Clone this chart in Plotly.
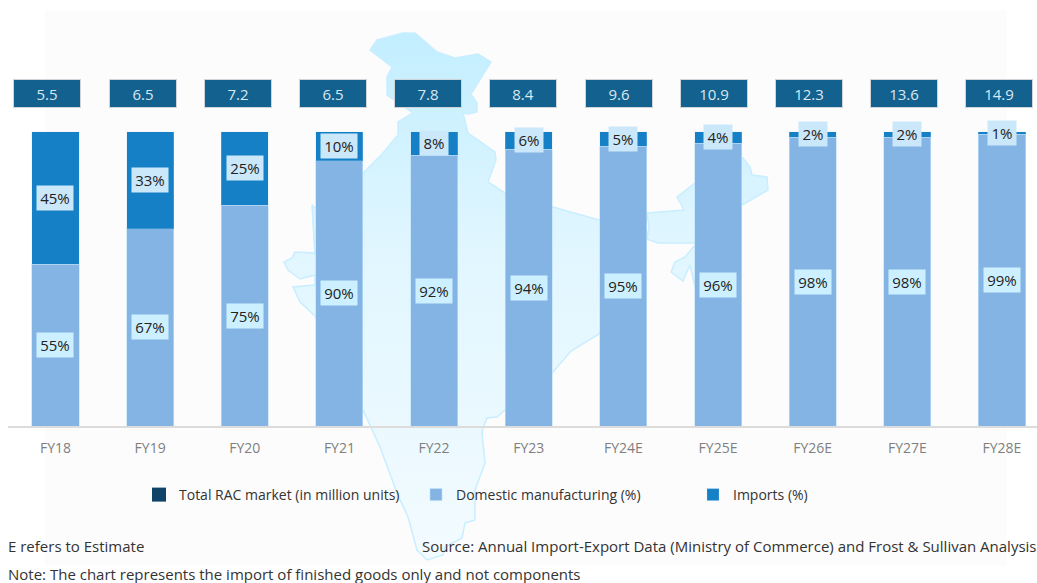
import plotly.graph_objects as go

categories = ["FY18", "FY19", "FY20", "FY21", "FY22", "FY23", "FY24E", "FY25E", "FY26E", "FY27E", "FY28E"]
total_market = ["5.5", "6.5", "7.2", "6.5", "7.8", "8.4", "9.6", "10.9", "12.3", "13.6", "14.9"]
domestic = [55, 67, 75, 90, 92, 94, 95, 96, 98, 98, 99]
imports = [45, 33, 25, 10, 8, 6, 5, 4, 2, 2, 1]

# decorative India silhouette behind the bars, traced in page pixels
map_x = [403, 415, 437, 455, 478, 491, 471, 477, 477, 468, 463, 468, 495, 496, 488, 505, 553, 599, 647, 684,
         677, 695, 743, 750, 752, 767, 768, 742, 720, 695, 685, 675, 671, 683, 690, 695, 705, 700, 693, 658, 647, 649, 647,
         625, 615, 599, 571, 553, 505, 497, 487, 483, 482, 485, 475, 475, 465, 462, 445, 443, 427, 417, 408, 397, 380, 363,
         315, 300, 293, 315, 315, 300, 288, 284, 292, 295, 315, 315, 312, 315, 363, 383, 398, 398, 413, 387, 387, 392, 370, 377, 403]
map_y = [33, 33, 52, 58, 54, 62, 94, 103, 112, 114, 113, 133, 152, 160, 182, 193, 207, 220, 213, 210,
         197, 183, 158, 167, 175, 177, 190, 205, 225, 245, 257, 262, 272, 281, 265, 287, 270, 243, 243, 243, 239, 227, 214,
         260, 300, 334, 351, 372, 410, 417, 418, 428, 433, 463, 490, 520, 523, 538, 547, 555, 560, 550, 517, 493, 447, 410,
         316, 302, 287, 285, 275, 279, 270, 262, 258, 252, 253, 255, 205, 208, 173, 153, 135, 122, 113, 95, 77, 67, 50, 40, 33]

C_DOM = "#83b4e3"
C_IMP = "#1580c6"
C_TOTAL_LEG = "#0f4468"
C_TOTAL = "#12618f"
FONT = "Open Sans"
W, H = 1037, 583

fig = go.Figure()

fig.add_trace(go.Scatter(
    x=map_x, y=map_y, xaxis="x", yaxis="y", mode="lines", fill="toself",
    line=dict(color="#c8eeff", width=1.5), showlegend=False, hoverinfo="skip",
    fillgradient=dict(type="vertical", start=33, stop=560,
                      colorscale=[[0, "#c2eeff"], [0.4, "#e0f6ff"], [1, "#f3fbff"]]),
))

fig.add_trace(go.Scatter(
    x=categories, y=[None] * len(categories), xaxis="x2", yaxis="y2", mode="markers",
    name="Total RAC market (in million units)",
    marker=dict(symbol="square", size=14, color=C_TOTAL_LEG),
))
fig.add_trace(go.Bar(
    x=categories, y=domestic, xaxis="x2", yaxis="y2", name="Domestic manufacturing (%)",
    marker=dict(color=C_DOM, line=dict(color="rgba(190,225,250,0.6)", width=1)), width=0.497,
))
fig.add_trace(go.Bar(
    x=categories, y=imports, xaxis="x2", yaxis="y2", name="Imports (%)",
    marker=dict(color=C_IMP, line=dict(color="rgba(190,225,250,0.25)", width=1)), width=0.497,
))

annotations = []
for i, cat in enumerate(categories):
    annotations.append(dict(
        x=cat, xref="x2", y=(H - 93.5) / H, yref="paper", yanchor="middle", text=total_market[i], showarrow=False,
        xshift=-8 + 0.55 * i, width=66, height=27, bgcolor=C_TOTAL, bordercolor="#d0d4d8", borderwidth=1,
        borderpad=0, font=dict(family=FONT, size=15, color="#dbe8f1"),
    ))
    annotations.append(dict(
        x=cat, xref="x2", y=domestic[i] / 2, yref="y2", text=f"{domestic[i]}%", showarrow=False,
        width=36, height=24, bgcolor="#ccf0ff", borderpad=0, font=dict(family=FONT, size=15, color="#222222"),
    ))
    annotations.append(dict(
        x=cat, xref="x2", y=domestic[i] + imports[i] / 2, yref="y2", text=f"{imports[i]}%", showarrow=False,
        width=36 if imports[i] >= 10 else 28, height=24, bgcolor="#cbe7fa", borderpad=0,
        font=dict(family=FONT, size=15, color="#222222"),
    ))

footer = [
    ("E refers to Estimate", 6, 546, "left"),
    ("Source: Annual Import-Export Data (Ministry of Commerce) and Frost &amp; Sullivan Analysis", 1039, 546, "right"),
    ("Note: The chart represents the import of finished goods only and not components", 6, 573.5, "left"),
]
for text, px, py, anchor in footer:
    annotations.append(dict(
        x=px / W, y=(H - py) / H, xref="paper", yref="paper", xanchor=anchor, yanchor="middle", text=text,
        showarrow=False, font=dict(family=FONT, size=15, color="#333333"),
    ))

fig.update_layout(
    width=W, height=H, margin=dict(l=0, r=0, t=0, b=0), autosize=False,
    paper_bgcolor="#ffffff", plot_bgcolor="rgba(0,0,0,0)", barmode="stack",
    font=dict(family=FONT),
    xaxis=dict(domain=[0, 1], range=[0, W], visible=False, fixedrange=True),
    yaxis=dict(domain=[0, 1], range=[H, 0], visible=False, fixedrange=True),
    xaxis2=dict(domain=[8 / W, 1], range=[-0.5016, 10.37], anchor="y2", type="category",
                categoryorder="array", categoryarray=categories,
                showline=True, linecolor="#dcdcdc", linewidth=2, showgrid=False, zeroline=False,
                ticks="outside", ticklen=8, tickcolor="rgba(0,0,0,0)",
                tickfont=dict(family=FONT, size=14, color="#7f7f7f")),
    yaxis2=dict(domain=[(H - 426) / H, (H - 131.5) / H], range=[0, 100], anchor="x2", visible=False),
    shapes=[dict(type="rect", xref="paper", yref="paper", x0=45 / W, x1=1007 / W, y0=(H - 566) / H, y1=(H - 10) / H,
                 fillcolor="#fcfcfc", line=dict(width=0), layer="below")],
    annotations=annotations,
    legend=dict(orientation="h", x=139 / W, y=(H - 495) / H, xanchor="left", yanchor="middle",
                entrywidth=232, entrywidthmode="pixels", traceorder="normal",
                bgcolor="rgba(0,0,0,0)", font=dict(family=FONT, size=14, color="#333333")),
    showlegend=True,
)

fig.write_html("out.html", config={"displayModeBar": False}, post_script="document.body.style.margin='0';")
